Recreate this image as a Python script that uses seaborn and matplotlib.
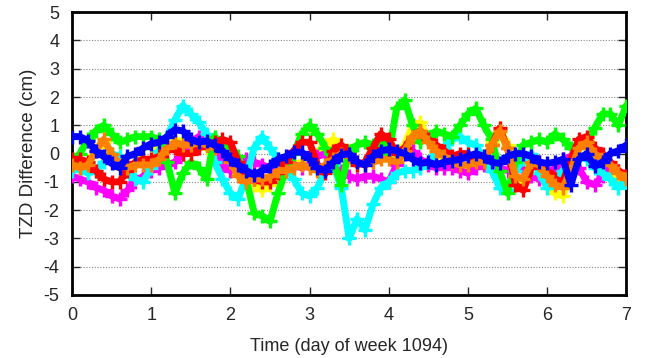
import numpy as np
import pandas as pd
import seaborn as sns
import matplotlib
matplotlib.use('Agg')
import matplotlib.pyplot as plt

# Time axis (day of week 1094), 0.1-day steps
days = [round(0.1 * i, 1) for i in range(71)]

# TZD differences (cm) per solution
yellow = [-0.3, -0.4, -0.3, 0.1, 0.4, 0.0, -0.5, -0.6, -0.3, 0.2,
          0.3, 0.0, 0.2, 0.5, 0.4, 0.3, 0.3, 0.2, 0.1, 0.0,
          -0.3, -0.7, -0.9, -1.1, -1.3, -1.1, -0.8, -0.6, -0.4, -0.3,
          -0.3, 0.0, 0.3, 0.5, 0.3, 0.0, -0.3, -0.4, -0.2, 0.0,
          0.0, -0.2, 0.3, 1.0, 1.1, 0.5, 0.1, -0.2, -0.4, -0.5,
          -0.5, -0.4, -0.3, 0.4, 0.9, 0.3, -0.8, -1.0, -0.4, -0.5,
          -1.0, -1.4, -1.5, -0.7, 0.2, 0.5, 0.0, -0.2, -0.5, -0.8, -1.0]
magenta = [-0.8, -0.9, -1.0, -1.2, -1.3, -1.5, -1.6, -1.3, -1.0, -0.8,
           -0.6, -0.5, -0.4, -0.3, 0.0, 0.4, 0.6, 0.6, 0.2, -0.4,
           -0.6, -0.4, -0.2, -0.3, -0.4, -0.5, -0.5, -0.4, -0.4, -0.5,
           -0.4, -0.1, 0.0, -0.3, -0.6, -0.8, -0.9, -0.8, -0.8, -0.9,
           -1.0, -0.4, 0.2, 0.1, -0.2, -0.4, -0.5, -0.5, -0.5, -0.6,
           -0.7, -0.5, -0.4, -0.4, -0.5, -0.6, -0.5, -0.6, -0.8, -0.9,
           -0.8, -0.5, -0.2, -0.1, -0.5, -1.0, -1.1, -0.8, -0.5, -0.6, -0.8]
cyan = [-0.6, -0.5, -0.7, -0.6, -0.3, 0.0, -0.1, -0.6, -0.9, -1.0,
        -0.5, 0.1, 0.6, 1.2, 1.7, 1.4, 1.1, 0.7, -0.3, -0.9,
        -1.4, -1.6, -0.8, 0.2, 0.6, 0.2, -0.2, -0.4, -0.9, -1.4,
        -1.5, -1.2, -0.6, -0.4, -1.2, -3.0, -2.3, -2.7, -1.8, -1.2,
        -1.0, -0.7, -0.6, -0.6, -0.5, -0.3, 0.0, 0.2, 0.5, 0.6,
        0.4, 0.3, -0.2, -0.6, -1.2, -1.3, -0.6, -0.2, 0.0, -0.7,
        -1.2, -1.0, -0.6, -0.3, -0.1, -0.2, -0.5, -0.7, -0.9, -1.2, -1.0]
green = [-0.3, 0.0, 0.5, 0.8, 1.0, 0.7, 0.4, 0.5, 0.6, 0.6,
         0.6, 0.5, -0.3, -1.4, -0.7, -0.3, -0.5, -0.9, 0.6, 0.3,
         0.0, -0.1, -0.9, -2.1, -2.2, -2.4, -1.4, -0.6, 0.0, 0.7,
         1.0, 0.7, 0.2, -0.3, -1.1, 0.1, 0.3, 0.4, 0.3, 0.4,
         0.0, 1.6, 1.9, 1.0, 0.4, 0.6, 0.8, 0.7, 0.6, 1.0,
         1.4, 1.6, 1.0, 0.5, -0.6, -1.4, -0.3, 0.3, 0.4, 0.5,
         0.4, 0.7, 0.5, 0.2, 0.2, 0.4, 0.9, 1.4, 1.4, 1.0, 1.7]
red = [-0.2, -0.2, -0.3, -0.6, -0.9, -1.0, -1.0, -0.6, -0.3, -0.2,
       -0.2, -0.1, 0.1, 0.2, 0.0, 0.0, 0.2, 0.3, 0.4, 0.5,
       0.4, -0.3, -0.7, -0.9, -1.0, -1.0, -0.7, -0.3, 0.1, 0.4,
       0.4, -0.4, -0.7, 0.1, 0.3, 0.0, -0.4, -0.3, 0.2, 0.7,
       0.5, 0.0, 0.2, 0.6, 0.8, 0.5, 0.3, 0.1, -0.1, 0.0,
       0.0, -0.2, -0.3, 0.3, 0.9, 0.2, -1.1, -1.3, -0.5, -0.3,
       -0.6, -0.9, -1.0, -0.2, 0.5, 0.6, 0.2, 0.0, -0.3, -0.6, -0.8]
orange = [-0.4, -0.5, -0.4, 0.1, 0.5, 0.0, -0.4, -0.5, -0.4, -0.4,
          -0.4, -0.2, 0.2, 0.4, 0.3, 0.3, 0.4, 0.3, 0.2, 0.1,
          -0.3, -0.8, -1.0, -0.9, -0.9, -0.8, -0.6, -0.6, -0.5, -0.4,
          -0.5, -0.6, -0.4, -0.2, 0.0, -0.1, -0.3, -0.4, -0.3, -0.2,
          -0.2, -0.3, 0.1, 0.6, 0.8, 0.4, 0.1, -0.1, -0.3, -0.4,
          -0.4, -0.3, -0.3, 0.3, 0.8, 0.2, -0.8, -0.9, -0.3, -0.4,
          -0.8, -1.1, -1.2, -0.6, 0.2, 0.4, 0.0, -0.2, -0.4, -0.7, -0.9]
blue = [0.6, 0.6, 0.45, 0.1, -0.1, -0.35, -0.5, -0.1, 0.0, 0.2,
        0.35, 0.4, 0.6, 0.85, 0.8, 0.5, 0.4, 0.45, 0.3, 0.1,
        -0.2, -0.4, -0.6, -0.75, -0.6, -0.45, -0.2, -0.1, 0.05, 0.05,
        -0.2, -0.5, -0.6, -0.3, -0.05, 0.0, -0.3, -0.4, -0.1, 0.1,
        0.15, 0.1, 0.0, -0.2, -0.35, -0.3, -0.4, -0.3, -0.25, -0.2,
        -0.1, 0.0, -0.1, -0.3, -0.35, -0.1, 0.0, 0.0, -0.1, -0.3,
        -0.35, -0.3, -0.2, -1.1, -0.2, 0.0, -0.45, -0.3, 0.0, 0.1, 0.3]

# drawing order: later series end up on top (blue last)
series = [('yellow', yellow, '#ffff00'),
          ('magenta', magenta, '#ff00ff'),
          ('cyan', cyan, '#00ffff'),
          ('green', green, '#00ff00'),
          ('red', red, '#ff0000'),
          ('orange', orange, '#ff8000'),
          ('blue', blue, '#0000ff')]

sns.set_style('ticks')
plt.rcParams['font.family'] = ['Liberation Sans', 'DejaVu Sans']
plt.rcParams['axes.unicode_minus'] = False

fig = plt.figure(figsize=(6.49, 3.58), dpi=100)
ax = fig.add_axes([0.111, 0.176, 0.854, 0.79])

for i, (name, vals, col) in enumerate(series):
    sns.lineplot(x=days, y=vals, color=col, linestyle='-', linewidth=5,
                 marker='+', markersize=10, markeredgewidth=2.4,
                 markeredgecolor=col, ax=ax, zorder=3 + i)

ax.set_xlim(0, 7)
ax.set_ylim(-5, 5)
ax.set_xticks(range(0, 8))
ax.set_yticks(range(-5, 6))
ax.yaxis.grid(True, color='#888888', linestyle=(0, (1, 1.5)), linewidth=0.8)
ax.xaxis.grid(False)
ax.set_axisbelow(True)
for s in ax.spines.values():
    s.set_linewidth(2)
    s.set_color('black')
ax.tick_params(direction='in', length=6, width=1, labelsize=13,
               top=True, right=True)
ax.tick_params(axis='x', pad=9)
ax.tick_params(axis='y', pad=9)
ax.set_xlabel('Time (day of week 1094)', fontsize=13, labelpad=10)
ax.set_ylabel('TZD Difference (cm)', fontsize=13.5, labelpad=5)

fig.savefig('out.png', dpi=100)
